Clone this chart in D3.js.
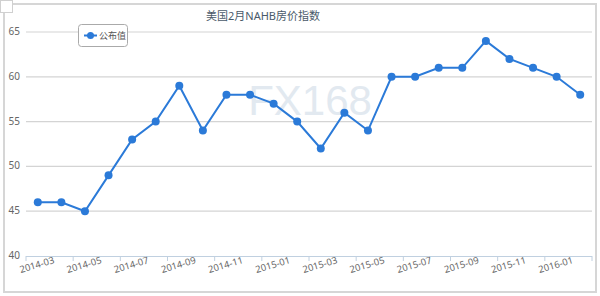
<!DOCTYPE html>
<html><head><meta charset="utf-8">
<script src="https://cdn.jsdelivr.net/npm/d3@7"></script>
<style>body{margin:0;background:#fff;}svg{display:block;font-family:"Noto Sans","Noto Sans CJK SC",sans-serif;}</style>
</head><body>
<svg id="c" width="600" height="296"></svg>
<script>
const categories = ["2014-03","2014-04","2014-05","2014-06","2014-07","2014-08","2014-09","2014-10","2014-11","2014-12","2015-01","2015-02","2015-03","2015-04","2015-05","2015-06","2015-07","2015-08","2015-09","2015-10","2015-11","2015-12","2016-01","2016-02"];
const values = [46,46,45,49,53,55,59,54,58,58,57,55,52,56,54,60,60,61,61,64,62,61,60,58];
const yTicks = [40,45,50,55,60,65];
const title = "美国2月NAHB房价指数";
const seriesName = "公布值";

const svg = d3.select("#c");
const L = 26, R = 592, T = 32, B = 256;
const color = "#2b7ad8";

// frame
svg.append("rect").attr("x",4).attr("y",4).attr("width",592).attr("height",288).attr("fill","none").attr("stroke","#d6d6d6").attr("stroke-width",2);
svg.append("rect").attr("x",0.5).attr("y",0.5).attr("width",12).attr("height",12).attr("fill","#fff").attr("stroke","#d0d0d0");

const x = d3.scaleBand().domain(categories).range([L,R]);
const y = d3.scaleLinear().domain([40,65]).range([B,T]);

// watermark
svg.append("text").attr("x",310).attr("y",115).attr("text-anchor","middle").attr("font-size",42)
  .attr("font-family","Arial, 'Liberation Sans', sans-serif").attr("fill","#e2e9f0").text("FX168");

// grid
svg.append("g").selectAll("line").data(yTicks.filter(d=>d>40)).join("line")
  .attr("x1",L).attr("x2",R).attr("y1",d=>y(d)).attr("y2",d=>y(d))
  .attr("stroke","#d4d4d4").attr("stroke-width",1.2);

// y labels
svg.append("g").selectAll("text").data(yTicks).join("text")
  .attr("x",20).attr("y",d=>y(d)+3).attr("text-anchor","end").attr("font-size",10).attr("fill","#666").text(d=>d);

// x axis
const xa = svg.append("g");
xa.append("line").attr("x1",L).attr("x2",R).attr("y1",B+0.5).attr("y2",B+0.5).attr("stroke","#c0d0e0");
xa.selectAll("line.t").data(categories.filter((d,i)=>i%2===0).concat(["end"])).join("line").attr("class","t")
  .attr("x1",(d)=>d==="end"?R:x(d)).attr("x2",(d)=>d==="end"?R:x(d))
  .attr("y1",B).attr("y2",B+5).attr("stroke","#c0d0e0");
xa.selectAll("text").data(categories.filter((d,i)=>i%2===0)).join("text")
  .attr("transform",d=>`translate(${x(d)+x.bandwidth()/2},${B+12}) rotate(-16)`)
  .attr("text-anchor","middle").attr("font-size",9.5).attr("fill","#666").text(d=>d);

// line
const line = d3.line().x((d,i)=>x(categories[i])+x.bandwidth()/2).y(d=>y(d));
svg.append("path").datum(values).attr("d",line).attr("fill","none").attr("stroke",color).attr("stroke-width",2);
svg.append("g").selectAll("circle").data(values).join("circle")
  .attr("cx",(d,i)=>x(categories[i])+x.bandwidth()/2).attr("cy",d=>y(d)).attr("r",4).attr("fill",color);

// title
svg.append("text").attr("x",263).attr("y",20).attr("text-anchor","middle").attr("font-size",11).attr("fill","#4a5a6a").text(title);

// legend
const lg = svg.append("g");
lg.append("rect").attr("x",78.5).attr("y",24.5).attr("width",49).attr("height",22).attr("rx",3).attr("fill","#fff").attr("stroke","#aaa");
lg.append("line").attr("x1",84).attr("x2",97).attr("y1",35.5).attr("y2",35.5).attr("stroke",color).attr("stroke-width",2);
lg.append("circle").attr("cx",90.5).attr("cy",35.5).attr("r",3.5).attr("fill",color);
lg.append("text").attr("x",99).attr("y",39).attr("font-size",9).attr("fill","#555").text(seriesName);
</script>
</body></html>
